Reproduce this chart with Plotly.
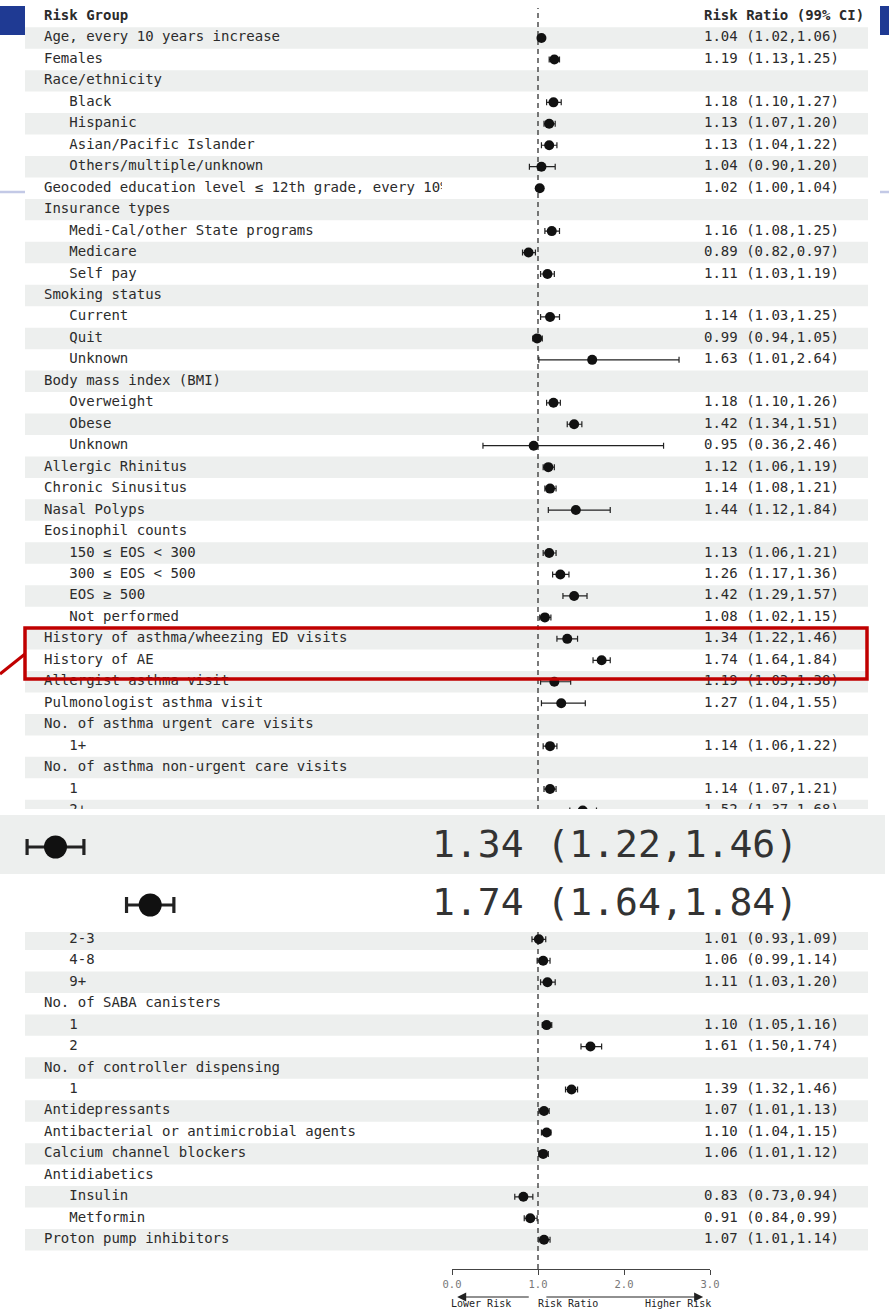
import plotly.graph_objects as go

W, H = 889, 1309

# ---- table content -------------------------------------------------------
header_left = "Risk Group"
header_right = "Risk Ratio (99% CI)"

labels = [
    "",
    "Age, every 10 years increase",
    "Females",
    "Race/ethnicity",
    "Black",
    "Hispanic",
    "Asian/Pacific Islander",
    "Others/multiple/unknown",
    "Geocoded education level \u2264 12th grade, every 10% increase",
    "Insurance types",
    "Medi-Cal/other State programs",
    "Medicare",
    "Self pay",
    "Smoking status",
    "Current",
    "Quit",
    "Unknown",
    "Body mass index (BMI)",
    "Overweight",
    "Obese",
    "Unknown",
    "Allergic Rhinitus",
    "Chronic Sinusitus",
    "Nasal Polyps",
    "Eosinophil counts",
    "150 \u2264 EOS < 300",
    "300 \u2264 EOS < 500",
    "EOS \u2265 500",
    "Not performed",
    "History of asthma/wheezing ED visits",
    "History of AE",
    "Allergist asthma visit",
    "Pulmonologist asthma visit",
    "No. of asthma urgent care visits",
    "1+",
    "No. of asthma non-urgent care visits",
    "1",
    "2+",
    "", "", "", "", "",
    "2-3",
    "4-8",
    "9+",
    "No. of SABA canisters",
    "1",
    "2",
    "No. of controller dispensing",
    "1",
    "Antidepressants",
    "Antibacterial or antimicrobial agents",
    "Calcium channel blockers",
    "Antidiabetics",
    "Insulin",
    "Metformin",
    "Proton pump inhibitors",
]

indent = [
    0, 0, 0, 0, 1, 1, 1, 1, 0, 0,
    1, 1, 1, 0, 1, 1, 1, 0, 1, 1,
    1, 0, 0, 0, 0, 1, 1, 1, 1, 0,
    0, 0, 0, 0, 1, 0, 1, 1, 0, 0,
    0, 0, 0, 1, 1, 1, 0, 1, 1, 0,
    1, 0, 0, 0, 0, 1, 1, 0,
]

rr = [
    None, 1.04, 1.19, None, 1.18, 1.13, 1.13, 1.04, 1.02, None,
    1.16, 0.89, 1.11, None, 1.14, 0.99, 1.63, None, 1.18, 1.42,
    0.95, 1.12, 1.14, 1.44, None, 1.13, 1.26, 1.42, 1.08, 1.34,
    1.74, 1.19, 1.27, None, 1.14, None, 1.14, 1.52, None, None,
    None, None, None, 1.01, 1.06, 1.11, None, 1.10, 1.61, None,
    1.39, 1.07, 1.10, 1.06, None, 0.83, 0.91, 1.07,
]
lo = [
    None, 1.02, 1.13, None, 1.10, 1.07, 1.04, 0.90, 1.00, None,
    1.08, 0.82, 1.03, None, 1.03, 0.94, 1.01, None, 1.10, 1.34,
    0.36, 1.06, 1.08, 1.12, None, 1.06, 1.17, 1.29, 1.02, 1.22,
    1.64, 1.03, 1.04, None, 1.06, None, 1.07, 1.37, None, None,
    None, None, None, 0.93, 0.99, 1.03, None, 1.05, 1.50, None,
    1.32, 1.01, 1.04, 1.01, None, 0.73, 0.84, 1.01,
]
hi = [
    None, 1.06, 1.25, None, 1.27, 1.20, 1.22, 1.20, 1.04, None,
    1.25, 0.97, 1.19, None, 1.25, 1.05, 2.64, None, 1.26, 1.51,
    2.46, 1.19, 1.21, 1.84, None, 1.21, 1.36, 1.57, 1.15, 1.46,
    1.84, 1.38, 1.55, None, 1.22, None, 1.21, 1.68, None, None,
    None, None, None, 1.09, 1.14, 1.20, None, 1.16, 1.74, None,
    1.46, 1.13, 1.15, 1.12, None, 0.94, 0.99, 1.14,
]

tick_vals = [0, 1, 2, 3]
tick_text = ["0.0", "1.0", "2.0", "3.0"]
zoom_rows = [29, 30]          # rows repeated in the magnified strip

# ---- geometry (pixels) ---------------------------------------------------
ROW0 = 16.5          # centre of header row
PITCH = 21.46        # row height
X0_PX, X3_PX = 452, 710         # forest axis 0.0 .. 3.0
LABEL_PX, INDENT_PX = 44, 25.3
LABEL_CLIP_PX = 442
VALUE_PX = 704
STRIPE_L, STRIPE_R = 25, 868
AXIS_PX = 1269
# magnified strip frame
ZOOM_TOP, ZOOM_BOT, ZOOM_R = 809, 932, 885
ZOOM_BAND = (815, 874)        # shaded band behind the first magnified row
ZOOM_ROW_PX, ZOOM_PITCH = 847.0, 58.0
ZOOM_MARK_PX, ZOOM_TEXT_PX = 55.5, 432.0

FONT = "DejaVu Sans Mono"
INK = "#2b2b2b"
STRIPE = "#edefee"


def py(p):
    return 1 - p / H


def pxx(p):
    return p / W


n = len(labels)
fmt = lambda i: f"{rr[i]:.2f} ({lo[i]:.2f},{hi[i]:.2f})"
est = [i for i in range(n) if rr[i] is not None]

y_top = -ROW0 / PITCH
y_bot = (H - ROW0) / PITCH
px_per_unit = (X3_PX - X0_PX) / 3.0
value_col_units = (VALUE_PX - X0_PX) / px_per_unit

# magnified strip scale: same units as the forest axis, enlarged
r0 = zoom_rows[0]
zoom_px_unit = (ZOOM_TEXT_PX - ZOOM_MARK_PX) / (value_col_units - rr[r0])
zx0 = rr[r0] - ZOOM_MARK_PX / zoom_px_unit
zx1 = rr[r0] + (ZOOM_R - ZOOM_MARK_PX) / zoom_px_unit


def zrow(p):
    return r0 + (p - ZOOM_ROW_PX) / ZOOM_PITCH


zy0, zy1 = zrow(ZOOM_TOP), zrow(ZOOM_BOT)

fig = go.Figure()

# forest estimates with 99% CIs
fig.add_trace(go.Scatter(
    x=[rr[i] for i in est], y=est, mode="markers",
    marker=dict(size=10, color="#111111"),
    error_x=dict(type="data", symmetric=False,
                 array=[hi[i] - rr[i] for i in est],
                 arrayminus=[rr[i] - lo[i] for i in est],
                 color="#222222", thickness=1.2, width=3),
    cliponaxis=False, hoverinfo="skip", xaxis="x", yaxis="y"))

# group labels (clipped at the column edge)
lab_idx = [i for i in range(n) if labels[i]]
fig.add_trace(go.Scatter(
    x=[LABEL_PX] + [LABEL_PX + indent[i] * INDENT_PX for i in lab_idx],
    y=[0] + lab_idx,
    text=[f"<b>{header_left}</b>"] + [labels[i] for i in lab_idx],
    mode="text", textposition="middle right",
    textfont=dict(family=FONT, size=14, color=INK),
    cliponaxis=True, hoverinfo="skip", xaxis="x2", yaxis="y"))

# risk ratio column
fig.add_trace(go.Scatter(
    x=[VALUE_PX] * (len(est) + 1),
    y=[0] + est,
    text=[f"<b>{header_right}</b>"] + [fmt(i) for i in est],
    mode="text", textposition="middle right",
    textfont=dict(family=FONT, size=14, color=INK),
    cliponaxis=False, hoverinfo="skip", xaxis="x3", yaxis="y"))

# magnified strip
fig.add_trace(go.Scatter(
    x=[rr[i] for i in zoom_rows], y=zoom_rows, mode="markers",
    marker=dict(size=23, color="#111111"),
    error_x=dict(type="data", symmetric=False,
                 array=[hi[i] - rr[i] for i in zoom_rows],
                 arrayminus=[rr[i] - lo[i] for i in zoom_rows],
                 color="#222222", thickness=3.2, width=8),
    cliponaxis=False, hoverinfo="skip", xaxis="x4", yaxis="y2"))
fig.add_trace(go.Scatter(
    x=[value_col_units] * len(zoom_rows), y=zoom_rows,
    text=[fmt(i) for i in zoom_rows],
    mode="text", textposition="middle right",
    textfont=dict(family=FONT, size=38, color="#333333"),
    cliponaxis=False, hoverinfo="skip", xaxis="x4", yaxis="y2"))

shapes = []
for i in range(1, n, 2):
    shapes.append(dict(type="rect", xref="paper", yref="y",
                       x0=pxx(STRIPE_L), x1=pxx(STRIPE_R), y0=i - 0.5, y1=i + 0.5,
                       fillcolor=STRIPE, line=dict(width=0), layer="below"))
shapes.append(dict(type="line", xref="x", yref="paper", x0=1, x1=1,
                   y0=py(AXIS_PX), y1=py(8),
                   line=dict(color="#333333", width=1.3, dash="5px,4px"),
                   layer="below"))
# strip background (drawn inside its own subplot so it hides what lies beneath)
shapes.append(dict(type="rect", xref="x4", yref="y2", x0=zx0, x1=zx1,
                   y0=zy0, y1=zy1, fillcolor="white", line=dict(width=0),
                   layer="below"))
shapes.append(dict(type="rect", xref="x4", yref="y2", x0=zx0, x1=zx1,
                   y0=zrow(ZOOM_BAND[0]), y1=zrow(ZOOM_BAND[1]),
                   fillcolor=STRIPE, line=dict(width=0), layer="below"))
# highlight frame and leader
shapes.append(dict(type="rect", xref="paper", yref="paper",
                   x0=pxx(25), x1=pxx(867), y0=py(679), y1=py(628),
                   line=dict(color="#c00000", width=3.5), layer="above"))
shapes.append(dict(type="line", xref="paper", yref="paper",
                   x0=pxx(25), x1=0, y0=py(654), y1=py(674),
                   line=dict(color="#c00000", width=3), layer="above"))
# slide ornaments
for x0, x1 in ((0, 25), (880, 889)):
    shapes.append(dict(type="rect", xref="paper", yref="paper",
                       x0=pxx(x0), x1=pxx(x1), y0=py(35), y1=py(6),
                       fillcolor="#1f3a93", line=dict(width=0), layer="above"))
    shapes.append(dict(type="line", xref="paper", yref="paper",
                       x0=pxx(x0), x1=pxx(x1), y0=py(192), y1=py(192),
                       line=dict(color="#c3c9e6", width=2.5), layer="above"))

annotations = [
    dict(xref="x", yref="paper", x=0.06, y=py(1297), ax=0.91, ay=0,
         axref="x", ayref="pixel", showarrow=True, arrowhead=2,
         arrowsize=1.5, arrowwidth=1.2, arrowcolor="#222222", text=""),
    dict(xref="x", yref="paper", x=2.92, y=py(1297), ax=1.08, ay=0,
         axref="x", ayref="pixel", showarrow=True, arrowhead=2,
         arrowsize=1.5, arrowwidth=1.2, arrowcolor="#222222", text=""),
]
for txt, cx in (("Lower Risk", 481), ("Risk Ratio", 567.5), ("Higher Risk", 677.5)):
    annotations.append(dict(xref="paper", yref="paper", x=pxx(cx), y=py(1303.5),
                            text=txt, showarrow=False, xanchor="center",
                            yanchor="middle",
                            font=dict(family=FONT, size=10, color="#222222")))

hidden = dict(visible=False, showgrid=False, zeroline=False, fixedrange=True)

fig.update_layout(
    width=W, height=H, autosize=False, margin=dict(l=0, r=0, t=0, b=0, pad=0),
    paper_bgcolor="white", plot_bgcolor="rgba(0,0,0,0)",
    showlegend=False,
    xaxis=dict(domain=[pxx(X0_PX), pxx(X3_PX)], range=[0, 3], autorange=False,
               anchor="free", position=py(AXIS_PX), automargin=False,
               showline=True, linecolor="#444444", linewidth=1,
               ticks="outside", ticklen=5, tickcolor="#444444", tickwidth=1,
               tickvals=tick_vals, ticktext=tick_text,
               tickfont=dict(family=FONT, size=10.5, color="#777777"),
               showgrid=False, zeroline=False, fixedrange=True),
    yaxis=dict(domain=[0, 1], range=[y_bot, y_top], autorange=False,
               automargin=False, **hidden),
    xaxis2=dict(domain=[pxx(STRIPE_L), pxx(LABEL_CLIP_PX)],
                range=[STRIPE_L, LABEL_CLIP_PX], autorange=False,
                anchor="y", automargin=False, **hidden),
    xaxis3=dict(domain=[0, 1], range=[0, W], autorange=False, anchor="y",
                automargin=False, **hidden),
    xaxis4=dict(domain=[0, pxx(ZOOM_R)], range=[zx0, zx1], autorange=False,
                anchor="y2", automargin=False, **hidden),
    yaxis2=dict(domain=[py(ZOOM_BOT), py(ZOOM_TOP)], range=[zy1, zy0],
                autorange=False, anchor="x4", automargin=False, **hidden),
    shapes=shapes, annotations=annotations,
)

page_fix = (
    "document.documentElement.style.margin='0';"
    "document.body.style.margin='0';document.body.style.padding='0';"
    "var gd=document.getElementById('{plot_id}');"
    "gd.style.position='absolute';gd.style.left='0px';gd.style.top='0px';"
    "Plotly.relayout(gd,{width:%d,height:%d});" % (W, H)
)

fig.write_html(
    "out.html",
    config={"displayModeBar": False, "responsive": False},
    post_script=page_fix,
)
